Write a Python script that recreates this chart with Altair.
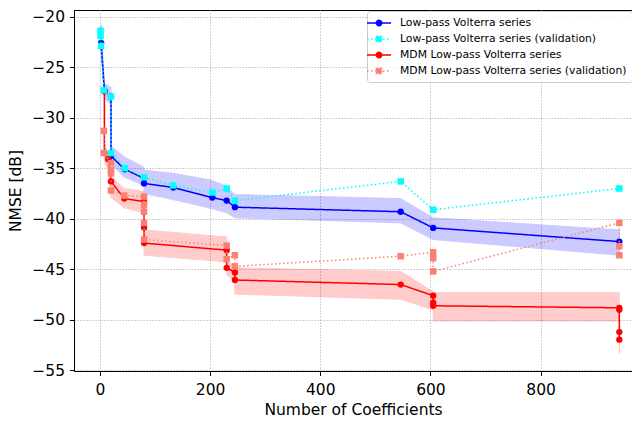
import altair as alt
import pandas as pd

SERIES = [
    "Low-pass Volterra series",
    "Low-pass Volterra series (validation)",
    "MDM Low-pass Volterra series",
    "MDM Low-pass Volterra series (validation)",
]
COLORS = ["#0000ff", "#00ffff", "#ff0000", "#fa8072"]

# Low-pass Volterra series (training) with spread band
lp_x = [2, 8, 20, 20, 45, 80, 80, 133, 204, 230, 245, 546, 605, 943]
lp_y = [-22.6, -27.3, -27.9, -33.8, -35.1, -36.0, -36.5, -36.9, -37.9, -38.2, -38.85, -39.3, -40.9, -42.25]
lp_lo = [-23.3, -28.1, -28.7, -34.6, -35.9, -36.7, -37.5, -38.1, -39.0, -39.4, -39.9, -40.4, -42.05, -43.6]
lp_hi = [-20.8, -26.6, -27.0, -32.8, -33.9, -34.9, -35.2, -35.5, -36.2, -36.8, -37.6, -38.0, -39.9, -41.1]

# Low-pass Volterra series (validation)
lpv_x = [1, 1, 2, 7, 20, 20, 45, 80, 133, 204, 230, 245, 546, 605, 943]
lpv_y = [-21.4, -21.9, -22.9, -27.3, -27.9, -33.5, -35.0, -35.9, -36.7, -37.4, -37.0, -38.2, -36.3, -39.1, -37.0]

# MDM Low-pass Volterra series (training) with spread band
mdm_x = [8, 8, 15, 20, 44, 80, 80, 80, 230, 230, 245, 245, 546, 605, 605, 605, 943, 943, 943, 943]
mdm_y = [-27.4, -33.5, -34.1, -36.3, -38.0, -38.3, -40.85, -42.4, -43.1, -44.85, -45.3, -46.05,
         -46.5, -47.6, -48.3, -48.6, -48.8, -49.0, -51.2, -51.95]
mdm_lo = [-28.0, -34.3, -35.3, -37.9, -38.9, -39.4, -41.6, -43.6, -44.25, -45.5, -46.3, -47.45,
          -47.95, -49.0, -49.5, -50.1, -50.1, -50.2, -52.5, -53.3]
mdm_hi = [-26.8, -32.6, -33.6, -35.8, -37.0, -37.3, -40.0, -41.1, -41.8, -44.2, -44.7, -44.85,
          -45.2, -47.2, -47.3, -47.3, -47.3, -47.8, -50.0, -50.6]

# MDM Low-pass Volterra series (validation)
mdmv_x = [7, 7, 20, 20, 20, 20, 44, 80, 80, 80, 80, 80, 230, 230, 245, 245, 546, 605, 605, 605, 943, 943, 943]
mdmv_y = [-31.3, -33.5, -34.5, -35.2, -35.5, -37.2, -37.7, -37.8, -38.6, -39.3, -40.4, -42.05, -42.65,
          -44.0, -43.6, -44.7, -43.7, -43.3, -43.9, -45.2, -40.4, -42.7, -43.6]

X_TICKS = [0, 200, 400, 600, 800]
Y_TICKS = [-55, -50, -45, -40, -35, -30, -25, -20]

FONT = "DejaVu Sans"


def frame(xs, ys, lo=None, hi=None):
    d = {"idx": list(range(len(xs))), "x": xs, "y": ys}
    if lo is not None:
        d["lo"] = lo
        d["hi"] = hi
    return pd.DataFrame(d)


df_lp = frame(lp_x, lp_y, lp_lo, lp_hi)
df_lpv = frame(lpv_x, lpv_y)
df_mdm = frame(mdm_x, mdm_y, mdm_lo, mdm_hi)
df_mdmv = frame(mdmv_x, mdmv_y)

xscale = alt.Scale(domain=[-47.2, 966], nice=False, zero=False)
yscale = alt.Scale(domain=[-55.05, -19.35], nice=False, zero=False)
xaxis = alt.Axis(values=X_TICKS, title="Number of Coefficients")
yaxis = alt.Axis(values=Y_TICKS, title="NMSE [dB]")


def X(field="x"):
    return alt.X(f"{field}:Q", scale=xscale, axis=xaxis)


def Y(field="y"):
    return alt.Y(f"{field}:Q", scale=yscale, axis=yaxis)


def band(df, color):
    # no order channel: it would split an area into one group per row;
    # rows are already sorted by x, and ties keep their data order.
    return alt.Chart(df).mark_area(
        fill=color, stroke=color, strokeWidth=1, opacity=0.2
    ).encode(x=X(), y=Y("lo"), y2="hi:Q")


def line(df, color, dash):
    return alt.Chart(df).mark_line(
        color=color, strokeWidth=1.5, strokeDash=dash
    ).encode(x=X(), y=Y(), order="idx:Q")


def pts(df, color, kind):
    if kind == "circle":
        m = alt.Chart(df).mark_circle(color=color, size=40, opacity=1)
    else:
        m = alt.Chart(df).mark_square(color=color, size=42, opacity=1)
    return m.encode(x=X(), y=Y())


SOLID = [1, 0]
DOT = [1.5, 2.5]

PATH_CIRCLE = "M-2,0H2M0.45,0A0.45,0.45,0,1,1,-0.45,0A0.45,0.45,0,1,1,0.45,0Z"
PATH_SQUARE = "M-2,0H2M-0.45,-0.45H0.45V0.45H-0.45Z"

leg = alt.Legend(
    orient="none", legendX=293, legendY=1, title=None,
    labelFont=FONT, labelFontSize=10.8, labelColor="black", labelLimit=400,
    symbolSize=144, symbolStrokeWidth=1.5, symbolOpacity=1,
    labelOffset=14, rowPadding=3, padding=5,
    fillColor="rgba(255,255,255,0.8)", strokeColor="#cccccc", cornerRadius=3,
)

legend_layer = alt.Chart(pd.DataFrame({"series": SERIES})).transform_filter("false").mark_point(
    filled=True, opacity=1, strokeWidth=1.5
).encode(
    fill=alt.Fill("series:N", scale=alt.Scale(domain=SERIES, range=COLORS), legend=leg, title=None),
    stroke=alt.Stroke("series:N", scale=alt.Scale(domain=SERIES, range=COLORS), legend=leg, title=None),
    shape=alt.Shape("series:N", scale=alt.Scale(domain=SERIES, range=[PATH_CIRCLE, PATH_SQUARE, PATH_CIRCLE, PATH_SQUARE]), legend=leg, title=None),
    strokeDash=alt.StrokeDash("series:N", scale=alt.Scale(domain=SERIES, range=[SOLID, DOT, SOLID, DOT]), legend=leg, title=None),
)

layers = [
    band(df_lp, COLORS[0]),
    band(df_mdm, COLORS[2]),
    line(df_lp, COLORS[0], SOLID), pts(df_lp, COLORS[0], "circle"),
    line(df_mdm, COLORS[2], SOLID), pts(df_mdm, COLORS[2], "circle"),
    line(df_lpv, COLORS[1], DOT), pts(df_lpv, COLORS[1], "square"),
    line(df_mdmv, COLORS[3], DOT), pts(df_mdmv, COLORS[3], "square"),
    legend_layer,
]

chart = alt.layer(*layers).properties(
    width=558, height=361,
    autosize=alt.AutoSizeParams(type="none"),
    padding={"left": 66, "top": 2, "right": 0, "bottom": 50},
).configure_view(
    stroke="black", strokeWidth=1
).configure_axis(
    labelFont=FONT, titleFont=FONT, labelFontSize=15.5, titleFontSize=15.5,
    titleFontWeight="normal", labelColor="black", titleColor="black",
    domainColor="black", tickColor="black", tickSize=4.5, tickWidth=1,
    gridColor="#b0b0b0", gridDash=[1.2, 1.8], gridWidth=1, gridOpacity=1,
).configure_axisX(
    labelPadding=6.5, titlePadding=5
).configure_axisY(
    labelPadding=5, titlePadding=8
)

chart.save("out.html", embed_options={"renderer": "svg", "actions": False})
